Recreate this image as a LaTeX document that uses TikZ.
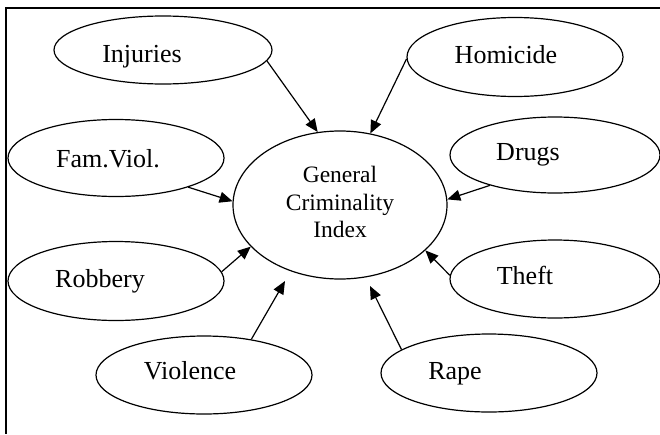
\documentclass[tikz,border=0pt]{standalone}
\usepackage{fontspec}
\setmainfont{Liberation Serif}
\usetikzlibrary{arrows.meta,shapes.geometric}

\tikzset{
  factor/.style={draw, ellipse, line width=1.2pt, inner sep=0pt},
  lbl/.style={anchor=base, inner sep=0pt, font=\fontsize{26}{31}\selectfont},
  arr/.style={line width=1.2pt, -{Triangle[length=13pt,width=11pt]}},
}

\begin{document}
\begin{tikzpicture}[x=1pt, y=-1pt]
  \useasboundingbox (0,0) rectangle (660,434);

  % open frame: top and left edges
  \draw[line width=1.8pt] (660,8) -- (6,8) -- (6,434);

  % central index
  \node[factor, minimum width=214pt, minimum height=148pt] (cgi) at (340,205) {};
  \node[align=center, inner sep=0pt, font=\fontsize{23.5}{27.5}\selectfont] (cgit) at (340,202)
    {General\\Criminality\\Index};

  % contributing factors
  \node[factor, minimum width=218pt, minimum height=68pt] (inj)   at (163,50)  {};
  \node[factor, minimum width=216pt, minimum height=77pt] (famv)  at (116,158) {};
  \node[factor, minimum width=216pt, minimum height=79pt] (rob)   at (116,281) {};
  \node[factor, minimum width=216pt, minimum height=78pt] (viol)  at (204,375) {};
  \node[factor, minimum width=216pt, minimum height=79pt] (hom)   at (515,57)  {};
  \node[factor, minimum width=210pt, minimum height=76pt] (drugs) at (555,155) {};
  \node[factor, minimum width=210pt, minimum height=78pt] (theft) at (555,279) {};
  \node[factor, minimum width=216pt, minimum height=78pt] (rape)  at (489,373) {};

  \node[lbl] (injt)   at (142,62)  {Injuries};
  \node[lbl] (famvt)  at (108,167) {Fam.Viol.};
  \node[lbl] (robt)   at (100,287) {Robbery};
  \node[lbl] (violt)  at (190,379) {Violence};
  \node[lbl] (homt)   at (506,63)  {Homicide};
  \node[lbl] (drugst) at (528,160) {Drugs};
  \node[lbl] (theftt) at (525,284) {Theft};
  \node[lbl] (rapet)  at (455,379) {Rape};

  % arrow tips that stop short of the central ellipse
  \coordinate (violtip) at (285,281);
  \coordinate (rapetip) at (370,286);

  % influences
  \draw[arr] (inj.-6)     -- (cgi.107);
  \draw[arr] (famv.-22.6) -- (cgi.178);
  \draw[arr] (rob.5)      -- (cgi.205.5);
  \draw[arr] (viol.37)    -- (violtip);
  \draw[arr] (hom.181)    -- (cgi.67);
  \draw[arr] (drugs.205)  -- (cgi.3);
  \draw[arr] (theft.178)  -- (cgi.-28);
  \draw[arr] (rape.165)   -- (rapetip);
\end{tikzpicture}
\end{document}
